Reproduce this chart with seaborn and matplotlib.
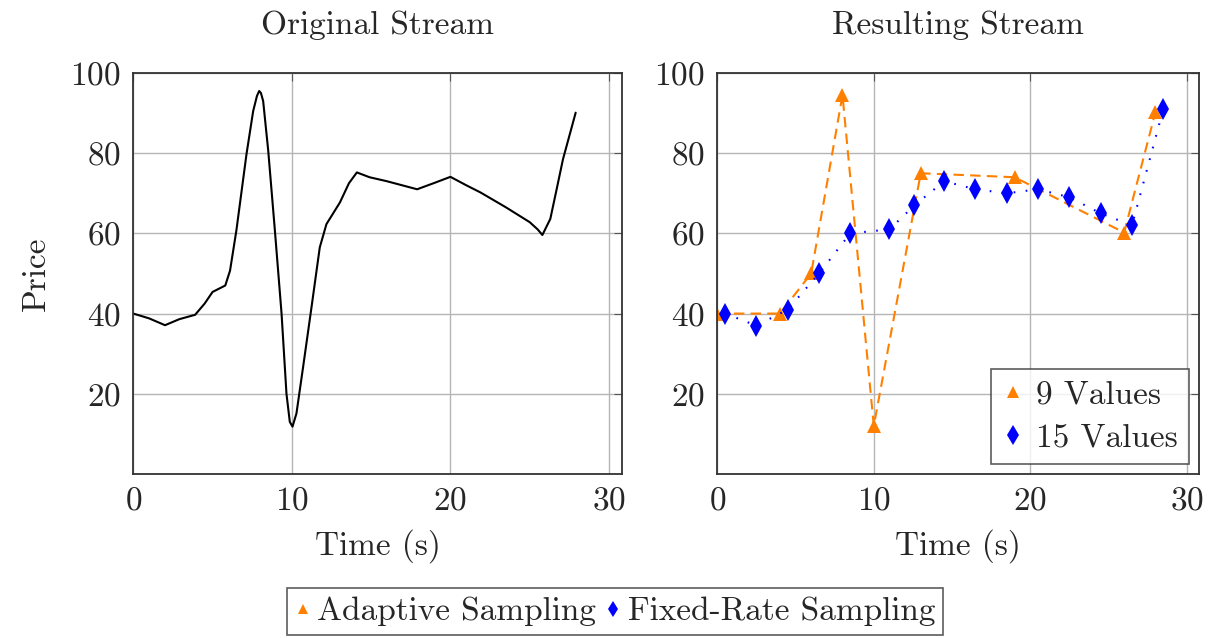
import numpy as np
import matplotlib
matplotlib.use("Agg")
import matplotlib.pyplot as plt
import seaborn as sns
from matplotlib.lines import Line2D

# Original stream
orig_time = [0.0, 1.0, 2.0, 2.9, 3.9, 4.5, 5.0, 5.8, 6.1, 6.5, 7.14, 7.56, 7.8, 7.94, 8.05, 8.19,
             8.51, 8.93, 9.35, 9.66, 9.87, 10.04, 10.29, 10.71, 11.24, 11.76, 12.18, 13.03,
             13.6, 14.1, 14.9, 16.0, 17.9, 19.0, 20.0, 21.0, 21.9, 23.5, 25.0, 25.5, 25.8,
             26.3, 26.7, 27.1, 27.9]
orig_price = [40.0, 38.8, 37.1, 38.6, 39.7, 42.5, 45.4, 47.0, 50.7, 60.7, 79.8, 90.5, 94.3, 95.5, 95.0, 93.0,
              80.6, 60.7, 40.0, 20.0, 13.0, 11.8, 15.1, 26.7, 41.6, 56.5, 62.3, 67.7,
              72.5, 75.2, 74.0, 73.0, 71.0, 72.6, 74.1, 72.0, 70.2, 66.5, 62.8, 61.0, 59.6,
              63.6, 71.0, 78.5, 90.1]

# Adaptive sampling (9 values)
adaptive_time = [0, 4, 6, 8, 10, 13, 19, 26, 28]
adaptive_price = [40, 40, 50, 94.5, 12, 75, 74, 60.2, 90.3]

# Fixed-rate sampling (15 values)
fixed_time = [0.5, 2.5, 4.5, 6.5, 8.5, 11, 12.6, 14.5, 16.5, 18.5, 20.5, 22.5, 24.5, 26.5, 28.5]
fixed_price = [40, 37, 41, 50, 60, 61, 67, 73, 71, 70, 71, 69, 65, 62, 91]

orange = "#ff8000"
blue = "#0000ff"

sns.set_theme(style="white")
plt.rcParams["font.family"] = ["cmr10", "DejaVu Serif"]
plt.rcParams["mathtext.fontset"] = "cm"
plt.rcParams["axes.unicode_minus"] = False
plt.rcParams["axes.formatter.use_mathtext"] = True

fig = plt.figure(figsize=(12.23, 6.38), dpi=100)
ax1 = fig.add_axes([0.1090, 0.2571, 0.3993, 0.6285])
ax2 = fig.add_axes([0.5865, 0.2571, 0.3941, 0.6285])

fs = 24

# Left: original stream
sns.lineplot(x=orig_time, y=orig_price, ax=ax1, color="black", linewidth=1.5,
             estimator=None, sort=False)

# Right: resulting streams
sns.lineplot(x=adaptive_time, y=adaptive_price, ax=ax2, color=orange, linewidth=1.5,
             linestyle=(0, (5, 3)), marker="^", markersize=10, markeredgewidth=0,
             estimator=None, sort=False)
sns.lineplot(x=fixed_time, y=fixed_price, ax=ax2, color=blue, linewidth=1.5,
             linestyle=(0, (0.8, 5)), marker="d", markersize=11, markeredgewidth=0,
             estimator=None, sort=False)

for ax, title in [(ax1, "Original Stream"), (ax2, "Resulting Stream")]:
    ax.set_xlim(0, 30.8)
    ax.set_ylim(0, 100)
    ax.set_xticks([0, 10, 20, 30])
    ax.set_yticks([20, 40, 60, 80, 100])
    ax.grid(True, color="#b5b5b5", linewidth=1.0)
    ax.set_axisbelow(True)
    ax.tick_params(direction="in", length=6, width=0.8, color="#555555",
                   labelsize=fs, pad=9, top=True, right=True)
    for sp in ax.spines.values():
        sp.set_color("#333333")
        sp.set_linewidth(1.3)
    ax.set_title(title, fontsize=fs, pad=28)
    ax.set_xlabel("Time (s)", fontsize=fs, labelpad=10)

ax1.set_ylabel("Price", fontsize=fs, labelpad=14)

# Legend inside right panel (markers only)
h_adapt = Line2D([], [], color=orange, linestyle="None", marker="^", markersize=9, markeredgewidth=0)
h_fixed = Line2D([], [], color=blue, linestyle="None", marker="d", markersize=10, markeredgewidth=0)
leg = ax2.legend([h_adapt, h_fixed], ["9 Values", "15 Values"], loc="lower right",
                 fontsize=fs, frameon=True, fancybox=False, handlelength=0.6,
                 handletextpad=0.4, borderpad=0.35, labelspacing=0.4,
                 borderaxespad=0.3)
leg.get_frame().set_edgecolor("#333333")
leg.get_frame().set_linewidth(1.2)

# Bottom shared legend
h_adapt2 = Line2D([], [], color=orange, linestyle="None", marker="^", markersize=7, markeredgewidth=0)
h_fixed2 = Line2D([], [], color=blue, linestyle="None", marker="d", markersize=8, markeredgewidth=0)
leg2 = fig.legend([h_adapt2, h_fixed2], ["Adaptive Sampling", "Fixed-Rate Sampling"],
                  loc="lower center", bbox_to_anchor=(0.503, 0.0), ncol=2, fontsize=fs,
                  frameon=True, fancybox=False, handlelength=0.45, handletextpad=0.2,
                  columnspacing=0.3, borderpad=0.25, borderaxespad=0.1)
leg2.get_frame().set_edgecolor("#333333")
leg2.get_frame().set_linewidth(1.2)

fig.savefig("out.png", dpi=100, facecolor="white")
